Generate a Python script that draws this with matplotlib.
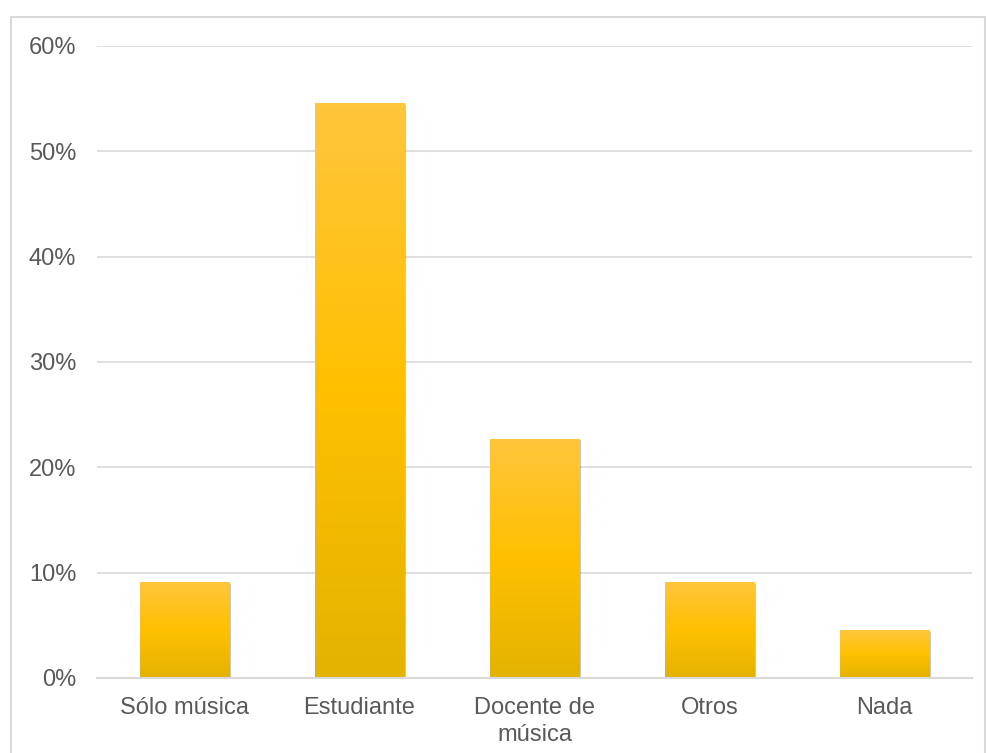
import matplotlib
matplotlib.use("Agg")
import matplotlib.pyplot as plt
import numpy as np
from matplotlib.patches import Rectangle
from matplotlib.colors import LinearSegmentedColormap

categories = ["Sólo música", "Estudiante", "Docente de\nmúsica", "Otros", "Nada"]
values = [9.09, 54.55, 22.73, 9.09, 4.55]
yticks = [0, 10, 20, 30, 40, 50, 60]
ytick_labels = ["0%", "10%", "20%", "30%", "40%", "50%", "60%"]

plt.rcParams['font.family'] = ['Liberation Sans', 'DejaVu Sans']

fig = plt.figure(figsize=(9.87, 7.53), dpi=100)
ax = fig.add_axes([97/987, 1-678/753, 875/987, (678-46)/753])

# outer frame
fig.patches.append(Rectangle((11/987, -0.05), (985-11)/987, 1-17/753+0.05,
                             transform=fig.transFigure, fill=False,
                             edgecolor="#D9D9D9", linewidth=1.5))

x = np.arange(len(categories))
width = 0.51
cmap = LinearSegmentedColormap.from_list("g", ["#E3B300", "#FFC000", "#FFC63C"])
grad = np.linspace(0, 1, 256).reshape(-1, 1)

for xi, v in zip(x, values):
    # soft shadow
    sh = Rectangle((xi - width/2 + 0.012, 0), width, v - 0.15, facecolor="#000000",
                   alpha=0.22, edgecolor="none", zorder=2)
    ax.add_patch(sh)
    ax.bar(xi, v, width=width, color="none", edgecolor="none", zorder=3)
    im = ax.imshow(grad, cmap=cmap, aspect="auto", origin="lower",
                   extent=[xi - width/2, xi + width/2, 0, v], zorder=3)
    clip = Rectangle((xi - width/2, 0), width, v, transform=ax.transData)
    im.set_clip_path(clip)

ax.set_xlim(-0.5, len(categories) - 0.5)
ax.set_ylim(0, 60)
ax.set_yticks(yticks)
ax.set_yticklabels(ytick_labels)
ax.set_xticks(x)
ax.set_xticklabels(categories, linespacing=1.25)
ax.yaxis.grid(True, color="#D9D9D9", linewidth=1.2, zorder=0)
ax.set_axisbelow(True)
for s in ["top", "right", "left"]:
    ax.spines[s].set_visible(False)
ax.spines["bottom"].set_color("#D9D9D9")
ax.spines["bottom"].set_linewidth(1.5)
ax.spines["bottom"].set_zorder(4)
ax.tick_params(axis="both", length=0, colors="#595959", labelsize=17)
ax.tick_params(axis="y", pad=15)
ax.tick_params(axis="x", pad=14)

fig.savefig("out.png", dpi=100, facecolor="white")
